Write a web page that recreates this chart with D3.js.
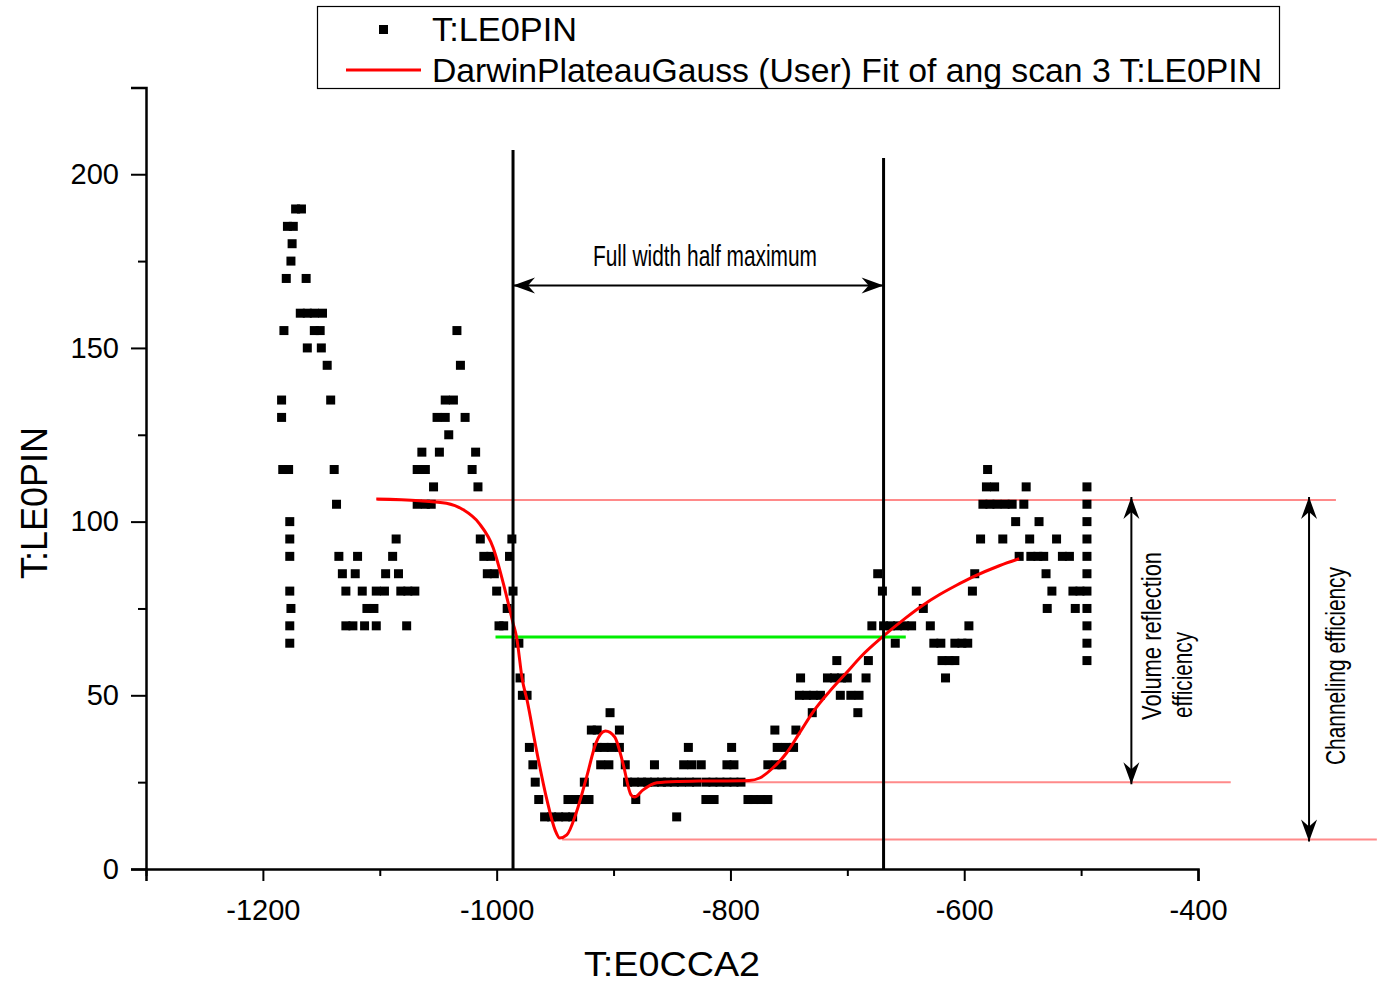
<!DOCTYPE html>
<html>
<head>
<meta charset="utf-8">
<script src="https://cdn.jsdelivr.net/npm/d3@7"></script>
<style>
	body { margin: 0; background: #fff; }
	svg { display: block; font-family: "Liberation Sans", Arial, sans-serif; }
</style>
</head>
<body>
<div id="chart"></div>
<script>
// axis ticks
const xTicks = d3.range(-1300, -399, 100);
const yTicks = d3.range(0, 201, 25);

// T:LE0PIN scatter, grouped by count level [y, [x...]]
const scatterRows = [
	[190, [-1172, -1167]],
	[185, [-1179, -1174]],
	[180, [-1175]],
	[175, [-1176]],
	[170, [-1180, -1163]],
	[160, [-1168, -1162, -1156, -1149]],
	[155, [-1182, -1156, -1151, -1034]],
	[150, [-1162, -1150]],
	[145, [-1145, -1031]],
	[135, [-1184, -1142, -1044, -1037]],
	[130, [-1184, -1051, -1044, -1027]],
	[125, [-1041]],
	[120, [-1064, -1049, -1018]],
	[115, [-1183, -1178, -1139, -1068, -1061, -1021, -580]],
	[110, [-1054, -1016, -581, -574, -547, -495]],
	[105, [-1137, -1068, -1061, -1056, -584, -578, -572, -565, -559, -549, -495]],
	[100, [-1177, -556, -536, -495]],
	[95, [-1177, -1086, -1014, -987, -586, -567, -544, -521, -495]],
	[90, [-1177, -1135, -1119, -1089, -1011, -1005, -989, -553, -543, -537, -532, -516, -510, -495]],
	[85, [-1132, -1121, -1095, -1084, -1008, -1002, -674, -591, -530, -495]],
	[80, [-1177, -1129, -1115, -1103, -1096, -1082, -1076, -1070, -1000, -986, -670, -641, -593, -525, -507, -501, -495]],
	[75, [-1176, -1111, -1105, -991, -635, -529, -505, -495]],
	[70, [-1177, -1129, -1123, -1113, -1103, -1077, -998, -994, -679, -669, -663, -657, -651, -645, -629, -596, -495]],
	[65, [-1177, -981, -659, -626, -620, -608, -602, -597, -495]],
	[60, [-709, -682, -619, -613, -608, -495]],
	[55, [-980, -740, -717, -711, -705, -700, -684, -616]],
	[50, [-978, -974, -741, -735, -729, -723, -706, -697, -690]],
	[45, [-903, -730, -691]],
	[40, [-919, -914, -895, -762, -744]],
	[35, [-972, -914, -908, -902, -895, -836, -799, -760, -753, -746]],
	[30, [-969, -911, -904, -890, -865, -840, -833, -825, -803, -797, -768, -761, -756]],
	[25, [-967, -925, -888, -882, -876, -871, -865, -859, -854, -848, -842, -835, -829, -821, -815, -809, -803, -797, -791]],
	[20, [-964, -939, -932, -927, -921, -881, -821, -814, -785, -780, -774, -768]],
	[15, [-959, -953, -947, -941, -935, -846]]
];

// DarwinPlateauGauss fit
const fitX = [-1103, -1066, -1043, -1029, -1015, -1003, -993, -986, -983, -978, -974, -966, -957, -950,
	-946, -940, -932, -923, -915, -907, -899, -892, -885, -882, -875, -863, -846, -827, -784, -775,
	-764, -752, -741, -730, -715, -701, -687, -670, -650, -636, -621, -607, -593, -570, -553];
const fitY = [106.5, 106, 105.3, 103.5, 99.5, 92.5, 80.5, 70.8, 66.8, 54.4, 48.6, 34.3, 19.9, 11.2,
	8.9, 9.8, 16.1, 26.5, 36.3, 39.7, 38, 30.5, 21.3, 20.7, 22.7, 24.8, 25.2, 25.3, 25.5, 26.2,
	29, 33.4, 39.1, 44.9, 51.2, 56.4, 61.6, 66.8, 72.3, 75.8, 79, 81.6, 84, 87.3, 89.3];

// annotation levels
const fwhmX = [-986, -669];
const fwhmTops = [207, 204.7];
const fwhmArrowY = 168;
const halfMax = 66.8;
const halfMaxSpan = [-1001, -650];
const plateau = 106.2, vrLevel = 25, chLevel = 8.5;
const plateauSpan = [-1102, -282];
const vrSpan = [-870, -372];
const chSpan = [-944, -247];
const vrArrowX = -457, chArrowX = -305;

const svg = d3.select('#chart').append('svg')
	.attr('width', 1378)
	.attr('height', 984);

const x = d3.scaleLinear().domain([-1300, -400]).range([146, 1198]);
const y = d3.scaleLinear().domain([0, 225]).range([869, 87.4]);

// axes
const xAxis = svg.append('g')
	.attr('transform', 'translate(0,' + y(0) + ')')
	.call(d3.axisBottom(x).tickValues(xTicks).tickSize(12).tickPadding(18)
		.tickFormat(d => (d % 200 === 0 ? String(d) : '')));
xAxis.selectAll('.tick line')
	.attr('y2', d => (d % 200 === 0 ? 12 : 7));

const yAxis = svg.append('g')
	.attr('transform', 'translate(' + x(-1300) + ',0)')
	.call(d3.axisLeft(y).tickValues(yTicks).tickSize(15).tickPadding(12)
		.tickFormat(d => (d % 50 === 0 ? String(d) : '')));
yAxis.selectAll('.tick line')
	.attr('x2', d => (d % 50 === 0 ? -15 : -8));

svg.selectAll('.domain').attr('stroke', '#000').attr('stroke-width', 2.5);
svg.selectAll('.tick line').attr('stroke', '#000').attr('stroke-width', 2);
svg.selectAll('.tick text')
	.attr('font-family', '"Liberation Sans", Arial, sans-serif')
	.attr('font-size', 29)
	.attr('fill', '#000');
xAxis.selectAll('.tick text').attr('dy', '0.71em');

svg.append('text')
	.attr('x', 584).attr('y', 976)
	.attr('font-size', 35)
	.attr('textLength', 176)
	.attr('lengthAdjust', 'spacingAndGlyphs')
	.text('T:E0CCA2');

svg.append('text')
	.attr('transform', 'translate(47,503) rotate(-90)')
	.attr('text-anchor', 'middle')
	.attr('font-size', 36)
	.text('T:LE0PIN');

// pink reference levels
const pink = '#ff8a8a';
[[plateau, plateauSpan], [vrLevel, vrSpan], [chLevel, chSpan]].forEach(([lv, sp]) => {
	svg.append('line')
		.attr('x1', x(sp[0])).attr('x2', x(sp[1]))
		.attr('y1', y(lv)).attr('y2', y(lv))
		.attr('stroke', pink).attr('stroke-width', 2);
});

// half maximum line
svg.append('line')
	.attr('x1', x(halfMaxSpan[0])).attr('x2', x(halfMaxSpan[1]))
	.attr('y1', y(halfMax)).attr('y2', y(halfMax))
	.attr('stroke', '#00ee00').attr('stroke-width', 3);

// scatter
const points = [];
scatterRows.forEach(([v, xs]) => xs.forEach(d => points.push({ x: d, y: v })));
svg.append('g').selectAll('rect')
	.data(points)
	.enter()
	.append('rect')
	.attr('x', d => x(d.x) - 4.5)
	.attr('y', d => y(d.y) - 4.5)
	.attr('width', 9)
	.attr('height', 9)
	.attr('fill', '#000');

// fit
const fitData = fitX.map((d, i) => ({ x: d, y: fitY[i] }));
svg.append('path')
	.datum(fitData)
	.attr('fill', 'none')
	.attr('stroke', '#ff0000')
	.attr('stroke-width', 3)
	.attr('d', d3.line().x(d => x(d.x)).y(d => y(d.y)).curve(d3.curveMonotoneX));

// FWHM verticals
fwhmX.forEach((d, i) => {
	svg.append('line')
		.attr('x1', x(d)).attr('x2', x(d))
		.attr('y1', y(fwhmTops[i])).attr('y2', y(0))
		.attr('stroke', '#000').attr('stroke-width', 3);
});

// arrow helper: tip at (tx,ty), pointing along (dx,dy)
function arrowHead(tx, ty, dx, dy) {
	const L = 22, W = 8, N = 15;
	const px = -dy, py = dx;
	const p = [
		[tx, ty],
		[tx - dx * L + px * W, ty - dy * L + py * W],
		[tx - dx * N, ty - dy * N],
		[tx - dx * L - px * W, ty - dy * L - py * W]
	];
	svg.append('path')
		.attr('d', 'M' + p.map(q => q.join(',')).join('L') + 'Z')
		.attr('fill', '#000');
}

function doubleArrow(x1, y1, x2, y2) {
	svg.append('line')
		.attr('x1', x1).attr('y1', y1).attr('x2', x2).attr('y2', y2)
		.attr('stroke', '#000').attr('stroke-width', 2);
	const len = Math.hypot(x2 - x1, y2 - y1);
	const ux = (x2 - x1) / len, uy = (y2 - y1) / len;
	arrowHead(x2, y2, ux, uy);
	arrowHead(x1, y1, -ux, -uy);
}

doubleArrow(x(fwhmX[0]), y(fwhmArrowY), x(fwhmX[1]), y(fwhmArrowY));
doubleArrow(x(vrArrowX), y(plateau) - 3, x(vrArrowX), y(vrLevel) + 2);
doubleArrow(x(chArrowX), y(plateau) - 3, x(chArrowX), y(chLevel) + 2);

// annotation text (condensed)
const narrow = '"Liberation Sans Narrow", "Liberation Sans", Arial, sans-serif';
svg.append('text')
	.attr('x', 593).attr('y', 266)
	.attr('font-family', narrow)
	.attr('font-size', 30)
	.attr('textLength', 224)
	.attr('lengthAdjust', 'spacingAndGlyphs')
	.text('Full width half maximum');

svg.append('text')
	.attr('transform', 'translate(1161,720) rotate(-90)')
	.attr('font-family', narrow)
	.attr('font-size', 27)
	.attr('textLength', 168)
	.attr('lengthAdjust', 'spacingAndGlyphs')
	.text('Volume reflection');

svg.append('text')
	.attr('transform', 'translate(1192,718) rotate(-90)')
	.attr('font-family', narrow)
	.attr('font-size', 27)
	.attr('textLength', 86)
	.attr('lengthAdjust', 'spacingAndGlyphs')
	.text('efficiency');

svg.append('text')
	.attr('transform', 'translate(1345,765) rotate(-90)')
	.attr('font-family', narrow)
	.attr('font-size', 28)
	.attr('textLength', 198)
	.attr('lengthAdjust', 'spacingAndGlyphs')
	.text('Channeling efficiency');

// legend
const legend = svg.append('g');
legend.append('rect')
	.attr('x', 317.5).attr('y', 6.5)
	.attr('width', 962).attr('height', 82)
	.attr('fill', '#fff')
	.attr('stroke', '#000')
	.attr('stroke-width', 1.2);
legend.append('rect')
	.attr('x', 379).attr('y', 25)
	.attr('width', 9).attr('height', 9)
	.attr('fill', '#000');
legend.append('line')
	.attr('x1', 346).attr('x2', 421)
	.attr('y1', 70).attr('y2', 70)
	.attr('stroke', '#ff0000').attr('stroke-width', 3);
legend.append('text')
	.attr('x', 432).attr('y', 41)
	.attr('font-size', 33)
	.attr('textLength', 145)
	.attr('lengthAdjust', 'spacingAndGlyphs')
	.text('T:LE0PIN');
legend.append('text')
	.attr('x', 432).attr('y', 82)
	.attr('font-size', 33)
	.attr('textLength', 830)
	.attr('lengthAdjust', 'spacingAndGlyphs')
	.text('DarwinPlateauGauss (User) Fit of ang scan 3 T:LE0PIN');
</script>
</body>
</html>
